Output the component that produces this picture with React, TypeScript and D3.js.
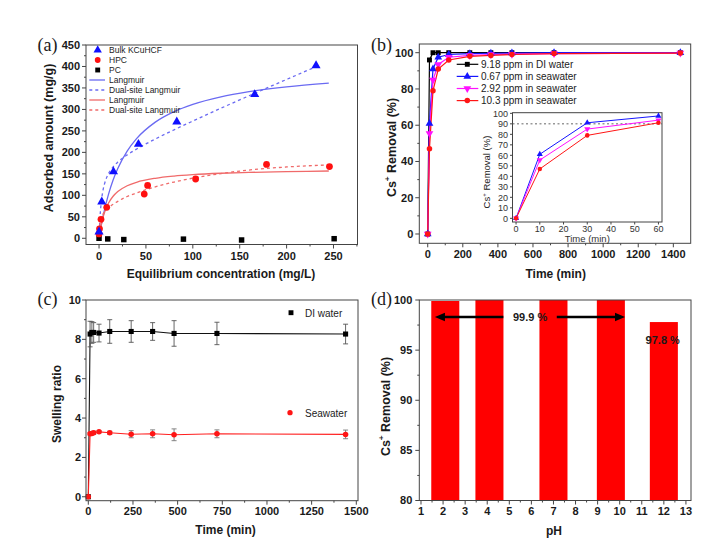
import React from 'react';
import * as d3 from 'd3';

// ---------------- Data ----------------
// (a) adsorption isotherms
const bulkC = [0, 2.9, 15.4, 42, 82.9, 166, 231.4];
const bulkQ = [15, 85, 155, 219, 271, 335, 402];
const hpcC = [0, 0.5, 2.1, 8.2, 48.2, 51.8, 103, 178.6, 245.7];
const hpcQ = [10, 22, 44, 72, 103, 123, 138, 172, 167];
const pcC = [0, 9.3, 26.4, 90, 152, 250.7];
const pcQ = [0, -1.5, -3, -2, -4, -1];
const fitC = [0, 1, 2, 4, 6, 10, 15, 20, 30, 40, 60, 80, 100, 130, 160, 200, 245];
const bulkLang = [0, 13.1, 25.4, 47.9, 67.8, 101.6, 135.5, 162.5, 203, 231.9, 270.4, 294.9, 311.9, 329.4, 341.3, 352.4, 361];
const bulkDualC = [0, 1, 2, 4, 6, 10, 15, 20, 30, 40, 60, 80, 100, 130, 160, 200, 232];
const bulkDual = [0, 47.7, 76.1, 109, 127.9, 150, 166.2, 177.4, 194.1, 207.7, 231.1, 252.5, 272.9, 302.8, 331.8, 369.8, 400.1];
const hpcLang = [0, 14.8, 27.2, 46.6, 61.1, 81.5, 97.8, 108.7, 122.3, 130.4, 139.7, 144.9, 148.2, 151.4, 153.4, 155.2, 156.6];
const hpcDualC = [0, 1, 2, 4, 6, 10, 15, 20, 30, 40, 60, 80, 100, 130, 160, 200, 247];
const hpcDual = [0, 30.3, 42.9, 55.1, 62.1, 71, 79.2, 86, 97.3, 105.4, 119.7, 131, 140, 150.7, 158.9, 166, 171];
const legendA = ['Bulk KCuHCF', 'HPC', 'PC', 'Langmuir', 'Dual-site Langmuir', 'Langmuir', 'Dual-site Langmuir'];
const aXTicks = [0, 50, 100, 150, 200, 250];
const aXMinor = [25, 75, 125, 175, 225, 275];
const aYTicks = [0, 50, 100, 150, 200, 250, 300, 350, 400, 450];
const aYMinor = [25, 75, 125, 175, 225, 275, 325, 375, 425];

// (b) removal kinetics
const kinT = [0, 10, 30, 60, 120, 240, 360, 480, 720, 1440];
const kinDI = [0, 96, 100, 100, 100, 100, 100, 100, 100, 100];
const kin067 = [0, 61, 91, 97.5, 99, 99.5, 99.7, 99.8, 100, 100];
const kin292 = [0, 55.5, 85, 93.5, 97.5, 98.5, 99, 99.2, 99.5, 99.8];
const kin103 = [0, 47, 79, 91, 96, 98, 98.5, 99, 99.5, 99.8];
const legendB = ['9.18 ppm in DI water', '0.67 ppm in seawater', '2.92 ppm in seawater', '10.3 ppm in seawater'];
const bXTicks = [0, 200, 400, 600, 800, 1000, 1200, 1400];
const bXMinor = [100, 300, 500, 700, 900, 1100, 1300];
const bYTicks = [0, 20, 40, 60, 80, 100];
const bYMinor = [10, 30, 50, 70, 90];
const insetN = 4; // first four time points (0-60 min)
const insetXTicks = [0, 10, 20, 30, 40, 50, 60];
const insetYTicks = [0, 10, 20, 30, 40, 50, 60, 70, 80, 90, 100];
const insetRef = 90;

// (c) swelling ratio
const swT = [0, 10, 20, 30, 60, 120, 240, 360, 480, 720, 1440];
const swDI = [0, 8.27, 8.35, 8.35, 8.32, 8.4, 8.4, 8.4, 8.3, 8.3, 8.27];
const swDIErr = [0, 0.65, 0.55, 0.5, 0.45, 0.6, 0.55, 0.45, 0.65, 0.57, 0.5];
const swSea = [0, 3.2, 3.22, 3.25, 3.3, 3.25, 3.18, 3.2, 3.15, 3.2, 3.17];
const swSeaErr = [0, 0.06, 0.06, 0.08, 0.05, 0.08, 0.18, 0.2, 0.3, 0.2, 0.22];
const cXTicks = [0, 250, 500, 750, 1000, 1250, 1500];
const cXMinor = [125, 375, 625, 875, 1125, 1375];
const cYTicks = [0, 2, 4, 6, 8, 10];
const cYMinor = [1, 3, 5, 7, 9];

// (d) pH effect
const pHs = [2.1, 4.1, 7.0, 9.6, 12.0];
const pHRemoval = [99.9, 100, 100, 100, 97.8];
const barWidth = 1.27;
const dXTicks = [1, 2, 3, 4, 5, 6, 7, 8, 9, 10, 11, 12, 13];
const dXMinor = [1.5, 2.5, 3.5, 4.5, 5.5, 6.5, 7.5, 8.5, 9.5, 10.5, 11.5, 12.5];
const dYTicks = [80, 85, 90, 95, 100];
const dYMinor = [82.5, 87.5, 92.5, 97.5];
const arrowY = 98.3;
const arrowLeft = [1.63, 4.73];
const arrowRight = [7.15, 10.24];
const label999 = { x: 5.94, text: '99.9 %' };
const label978 = { x: 11.95, y: 96.0, text: '97.8 %' };

// ---------------- Helpers ----------------
const SANS = 'Liberation Sans, Arial, Helvetica, sans-serif';
const SERIF = 'Liberation Serif, Times New Roman, serif';
type Lin = d3.ScaleLinear<number, number>;

const sym = (t: d3.SymbolType, size: number) => d3.symbol().type(t).size(size)() as string;

function Axes(props: {
  x: Lin; y: Lin; xt: number[]; xm: number[]; yt: number[]; ym: number[];
  xOff?: number; yOff?: number; fs?: number; weight?: string; tick?: number; minor?: number;
}) {
  const { x, y, xt, xm, yt, ym, xOff = 15.5, yOff = 6, fs = 11, weight = 'bold', tick = 4, minor = 2 } = props;
  const [x0, x1] = x.range();
  const [y0, y1] = y.range();
  const st = '#444';
  return (
    <g>
      <rect x={x0} y={y1} width={x1 - x0} height={y0 - y1} fill="none" stroke={st} strokeWidth={1} />
      {xt.map(v => <line key={'xt' + v} x1={x(v)} x2={x(v)} y1={y0} y2={y0 + tick} stroke={st} />)}
      {xm.map(v => <line key={'xm' + v} x1={x(v)} x2={x(v)} y1={y0} y2={y0 + minor} stroke={st} />)}
      {yt.map(v => <line key={'yt' + v} x1={x0} x2={x0 - tick} y1={y(v)} y2={y(v)} stroke={st} />)}
      {ym.map(v => <line key={'ym' + v} x1={x0} x2={x0 - minor} y1={y(v)} y2={y(v)} stroke={st} />)}
      {xt.map(v => (
        <text key={'xl' + v} x={x(v)} y={y0 + xOff} textAnchor="middle" fontSize={fs} fontWeight={weight} fontFamily={SANS} fill="#1a1a1a">{v}</text>
      ))}
      {yt.map(v => (
        <text key={'yl' + v} x={x0 - yOff} y={y(v) + fs * 0.36} textAnchor="end" fontSize={fs} fontWeight={weight} fontFamily={SANS} fill="#1a1a1a">{v}</text>
      ))}
    </g>
  );
}

function CsLabel({ x, y, fs = 12, weight = 'bold' }: { x: number; y: number; fs?: number; weight?: string }) {
  return (
    <text transform={`translate(${x},${y}) rotate(-90)`} textAnchor="middle" fontSize={fs} fontWeight={weight} fontFamily={SANS} fill="#1a1a1a">
      Cs<tspan dy={-fs * 0.45} fontSize={fs * 0.65}>+</tspan><tspan dy={fs * 0.45}> Removal (%)</tspan>
    </text>
  );
}

export default function App() {
  // ---------- Panel A ----------
  const ax = d3.scaleLinear().domain([-13.9, 275.6]).range([86, 357.5]);
  const ay = d3.scaleLinear().domain([-14.5, 450]).range([244.5, 45]);
  const lineA = (xs: number[], ys: number[]) =>
    d3.line<number>().x((_, i) => ax(xs[i])).y((_, i) => ay(ys[i])).curve(d3.curveMonotoneX)(ys) as string;
  const BLUE = '#1010ff';
  const BLUE_L = '#6a6af2';
  const RED = '#ff1010';
  const RED_L = '#f06a6a';

  // ---------- Panel B ----------
  const bx = d3.scaleLinear().domain([-48, 1499]).range([419.3, 690.7]);
  const by = d3.scaleLinear().domain([-5.13, 104.8]).range([243.3, 44]);
  const ix = d3.scaleLinear().domain([-1.5, 61.5]).range([512.5, 662]);
  const iy = d3.scaleLinear().domain([-3.5, 100.6]).range([222, 112.7]);
  const kinSeries = [
    { ys: kinDI, color: '#000000', sym: d3.symbolSquare, size: 24, rot: 0 },
    { ys: kin067, color: '#1515ff', sym: d3.symbolTriangle, size: 26, rot: 0 },
    { ys: kin292, color: '#ff10ff', sym: d3.symbolTriangle, size: 26, rot: 180 },
    { ys: kin103, color: '#ff1515', sym: d3.symbolCircle, size: 24, rot: 0 },
  ];
  const lineB = (ys: number[]) =>
    d3.line<number>().x((_, i) => bx(kinT[i])).y(v => by(v))(ys) as string;
  const lineI = (ys: number[]) =>
    d3.line<number>().x((_, i) => ix(kinT[i])).y(v => iy(v))(ys.slice(0, insetN)) as string;

  // ---------- Panel C ----------
  const cx = d3.scaleLinear().domain([-12.9, 1509.5]).range([86, 358]);
  const cy = d3.scaleLinear().domain([-0.2, 10]).range([500.7, 300]);
  const lineC = (ys: number[]) =>
    d3.line<number>().x((_, i) => cx(swT[i])).y(v => cy(v))(ys) as string;

  // ---------- Panel D ----------
  const dx = d3.scaleLinear().domain([0.923, 13.23]).range([419.3, 691]);
  const dy = d3.scaleLinear().domain([80, 100]).range([500.5, 300]);

  return (
    <svg width={721} height={558} style={{ position: 'absolute', left: 0, top: 0, background: '#fff' }}>
      <rect x={0} y={0} width={721} height={558} fill="#fff" />

      {/* ================= (a) ================= */}
      <g>
        <path d={lineA(fitC, bulkLang)} fill="none" stroke={BLUE_L} strokeWidth={1.3} />
        <path d={lineA(bulkDualC, bulkDual)} fill="none" stroke={BLUE_L} strokeWidth={1.3} strokeDasharray="3,3" />
        <path d={lineA(fitC, hpcLang)} fill="none" stroke={RED_L} strokeWidth={1.3} />
        <path d={lineA(hpcDualC, hpcDual)} fill="none" stroke={RED_L} strokeWidth={1.3} strokeDasharray="3,3" />
        {pcC.map((c, i) => (
          <path key={'pc' + i} d={sym(d3.symbolSquare, 30)} transform={`translate(${ax(c)},${ay(pcQ[i])})`} fill="#000" />
        ))}
        {hpcC.map((c, i) => (
          <path key={'hpc' + i} d={sym(d3.symbolCircle, 36)} transform={`translate(${ax(c)},${ay(hpcQ[i])})`} fill={RED} />
        ))}
        {bulkC.map((c, i) => (
          <path key={'bk' + i} d={sym(d3.symbolTriangle, 36)} transform={`translate(${ax(c)},${ay(bulkQ[i])})`} fill={BLUE} />
        ))}
        <Axes x={ax} y={ay} xt={aXTicks} xm={aXMinor} yt={aYTicks} ym={aYMinor} xOff={15.5} yOff={6} />
        {/* legend */}
        {legendA.map((t, i) => {
          const yy = 50 + i * 10;
          let mark: React.ReactNode = null;
          if (i === 0) mark = <path d={sym(d3.symbolTriangle, 30)} transform={`translate(97.7,${yy})`} fill={BLUE} />;
          if (i === 1) mark = <path d={sym(d3.symbolCircle, 26)} transform={`translate(97.7,${yy})`} fill={RED} />;
          if (i === 2) mark = <path d={sym(d3.symbolSquare, 24)} transform={`translate(97.7,${yy})`} fill="#000" />;
          if (i >= 3) {
            const col = i < 5 ? BLUE_L : RED_L;
            const dash = i % 2 === 0 ? '3,3' : undefined;
            mark = <line x1={89.3} x2={105} y1={yy} y2={yy} stroke={col} strokeWidth={1.3} strokeDasharray={dash} />;
          }
          return (
            <g key={'la' + i}>
              {mark}
              <text x={109} y={yy + 3} fontSize={8.5} fontFamily={SANS} fill="#222">{t}</text>
            </g>
          );
        })}
        <text transform="translate(52.5,138) rotate(-90)" textAnchor="middle" fontSize={12.5} fontWeight="bold" fontFamily={SANS} fill="#1a1a1a">Adsorbed amount (mg/g)</text>
        <text x={221} y={277.5} textAnchor="middle" fontSize={12} fontWeight="bold" fontFamily={SANS} fill="#1a1a1a">Equilibrium concentration (mg/L)</text>
        <text x={37.5} y={50.5} fontSize={18} fontFamily={SERIF} fill="#1a1a1a">(a)</text>
      </g>

      {/* ================= (b) ================= */}
      <g>
        {kinSeries.map((s, k) => (
          <path key={'bl' + k} d={lineB(s.ys)} fill="none" stroke={s.color} strokeWidth={1.2} />
        ))}
        {kinSeries.map((s, k) => s.ys.map((v, i) => (
          <path key={'bm' + k + '-' + i} d={sym(s.sym, s.size)} transform={`translate(${bx(kinT[i])},${by(v)}) rotate(${s.rot})`} fill={s.color} />
        )))}
        <Axes x={bx} y={by} xt={bXTicks} xm={bXMinor} yt={bYTicks} ym={bYMinor} xOff={15} yOff={6} />
        {/* legend */}
        {legendB.map((t, k) => {
          const s = kinSeries[k];
          const yy = 64.3 + k * 12.1;
          return (
            <g key={'lb' + k}>
              <line x1={456.7} x2={478.3} y1={yy} y2={yy} stroke={s.color} strokeWidth={1.2} />
              <path d={sym(s.sym, s.size)} transform={`translate(467.3,${yy}) rotate(${s.rot})`} fill={s.color} />
              <text x={481} y={yy + 3.6} fontSize={10} fontFamily={SANS} fill="#222">{t}</text>
            </g>
          );
        })}
        {/* inset */}
        <rect x={512.5} y={112.7} width={662 - 512.5} height={222 - 112.7} fill="#fff" stroke="#444" strokeWidth={1} />
        <line x1={512.5} x2={662} y1={iy(insetRef)} y2={iy(insetRef)} stroke="#666" strokeWidth={1} strokeDasharray="2,2.5" />
        {kinSeries.slice(1).map((s, k) => (
          <path key={'il' + k} d={lineI(s.ys)} fill="none" stroke={s.color} strokeWidth={1} />
        ))}
        {kinSeries.slice(1).map((s, k) => s.ys.slice(0, insetN).map((v, i) => (
          <path key={'im' + k + '-' + i} d={sym(s.sym, 16)} transform={`translate(${ix(kinT[i])},${iy(v)}) rotate(${s.rot})`} fill={s.color} />
        )))}
        {insetXTicks.map(v => (
          <g key={'ixt' + v}>
            <line x1={ix(v)} x2={ix(v)} y1={222} y2={224.5} stroke="#444" />
            <text x={ix(v)} y={231.5} textAnchor="middle" fontSize={9} fontFamily={SANS} fill="#333">{v}</text>
          </g>
        ))}
        {insetYTicks.map(v => (
          <g key={'iyt' + v}>
            <line x1={512.5} x2={510} y1={iy(v)} y2={iy(v)} stroke="#444" />
            <text x={508} y={iy(v) + 3.2} textAnchor="end" fontSize={9} fontFamily={SANS} fill="#333">{v}</text>
          </g>
        ))}
        <text x={587.3} y={241.5} textAnchor="middle" fontSize={9.5} fontFamily={SANS} fill="#333">Time (min)</text>
        <CsLabel x={490} y={172} fs={9.5} weight="normal" />
        <CsLabel x={396} y={147.5} fs={12.5} />
        <text x={555.7} y={277.8} textAnchor="middle" fontSize={12} fontWeight="bold" fontFamily={SANS} fill="#1a1a1a">Time (min)</text>
        <text x={371} y={50.5} fontSize={18} fontFamily={SERIF} fill="#1a1a1a">(b)</text>
      </g>

      {/* ================= (c) ================= */}
      <g>
        <path d={lineC(swDI)} fill="none" stroke="#111" strokeWidth={1.1} />
        <path d={lineC(swSea)} fill="none" stroke="#ff2020" strokeWidth={1.1} />
        {swT.map((t, i) => swDIErr[i] > 0 && (
          <g key={'de' + i} stroke="#555" strokeWidth={0.9}>
            <line x1={cx(t)} x2={cx(t)} y1={cy(swDI[i] - swDIErr[i])} y2={cy(swDI[i] + swDIErr[i])} />
            <line x1={cx(t) - 2.5} x2={cx(t) + 2.5} y1={cy(swDI[i] - swDIErr[i])} y2={cy(swDI[i] - swDIErr[i])} />
            <line x1={cx(t) - 2.5} x2={cx(t) + 2.5} y1={cy(swDI[i] + swDIErr[i])} y2={cy(swDI[i] + swDIErr[i])} />
          </g>
        ))}
        {swT.map((t, i) => swSeaErr[i] > 0 && (
          <g key={'se' + i} stroke="#777" strokeWidth={0.9}>
            <line x1={cx(t)} x2={cx(t)} y1={cy(swSea[i] - swSeaErr[i])} y2={cy(swSea[i] + swSeaErr[i])} />
            <line x1={cx(t) - 2.5} x2={cx(t) + 2.5} y1={cy(swSea[i] - swSeaErr[i])} y2={cy(swSea[i] - swSeaErr[i])} />
            <line x1={cx(t) - 2.5} x2={cx(t) + 2.5} y1={cy(swSea[i] + swSeaErr[i])} y2={cy(swSea[i] + swSeaErr[i])} />
          </g>
        ))}
        {swT.map((t, i) => (
          <path key={'dm' + i} d={sym(d3.symbolSquare, 26)} transform={`translate(${cx(t)},${cy(swDI[i])})`} fill="#000" />
        ))}
        {swT.map((t, i) => (
          <path key={'sm' + i} d={sym(d3.symbolCircle, 24)} transform={`translate(${cx(t)},${cy(swSea[i])})`} fill="#ff1515" />
        ))}
        <Axes x={cx} y={cy} xt={cXTicks} xm={cXMinor} yt={cYTicks} ym={cYMinor} xOff={14.5} yOff={5} />
        <path d={sym(d3.symbolSquare, 24)} transform="translate(291,312.7)" fill="#000" />
        <text x={305} y={316.5} fontSize={10} fontFamily={SANS} fill="#222">DI water</text>
        <path d={sym(d3.symbolCircle, 22)} transform="translate(290,412.7)" fill="#ff1515" />
        <text x={305} y={416.5} fontSize={10} fontFamily={SANS} fill="#222">Seawater</text>
        <text transform="translate(60.5,404) rotate(-90)" textAnchor="middle" fontSize={12} fontWeight="bold" fontFamily={SANS} fill="#1a1a1a">Swelling ratio</text>
        <text x={225.5} y={533.7} textAnchor="middle" fontSize={12} fontWeight="bold" fontFamily={SANS} fill="#1a1a1a">Time (min)</text>
        <text x={37.5} y={305} fontSize={18} fontFamily={SERIF} fill="#1a1a1a">(c)</text>
      </g>

      {/* ================= (d) ================= */}
      <g>
        {pHs.map((p, i) => (
          <rect key={'bar' + i} x={dx(p - barWidth / 2)} y={dy(pHRemoval[i])} width={dx(p + barWidth / 2) - dx(p - barWidth / 2)} height={dy(80) - dy(pHRemoval[i])} fill="#ff0000" />
        ))}
        <Axes x={dx} y={dy} xt={dXTicks} xm={dXMinor} yt={dYTicks} ym={dYMinor} xOff={14.5} yOff={7} />
        {/* arrows */}
        <line x1={dx(arrowLeft[0]) + 8} x2={dx(arrowLeft[1])} y1={dy(arrowY)} y2={dy(arrowY)} stroke="#000" strokeWidth={2.6} />
        <polygon points={`${dx(arrowLeft[0])},${dy(arrowY)} ${dx(arrowLeft[0]) + 10},${dy(arrowY) - 4.2} ${dx(arrowLeft[0]) + 10},${dy(arrowY) + 4.2}`} fill="#000" />
        <line x1={dx(arrowRight[0])} x2={dx(arrowRight[1]) - 8} y1={dy(arrowY)} y2={dy(arrowY)} stroke="#000" strokeWidth={2.6} />
        <polygon points={`${dx(arrowRight[1])},${dy(arrowY)} ${dx(arrowRight[1]) - 10},${dy(arrowY) - 4.2} ${dx(arrowRight[1]) - 10},${dy(arrowY) + 4.2}`} fill="#000" />
        <text x={dx(label999.x)} y={dy(arrowY) + 4} textAnchor="middle" fontSize={11} fontWeight="bold" fontFamily={SANS} fill="#1a1a1a">{label999.text}</text>
        <text x={dx(label978.x)} y={dy(label978.y) + 4} textAnchor="middle" fontSize={11} fontWeight="bold" fontFamily={SANS} fill="#1a1a1a">{label978.text}</text>
        <CsLabel x={389.5} y={406.5} fs={12.5} />
        <text x={554} y={535} textAnchor="middle" fontSize={12} fontWeight="bold" fontFamily={SANS} fill="#1a1a1a">pH</text>
        <text x={371} y={305} fontSize={18} fontFamily={SERIF} fill="#1a1a1a">(d)</text>
      </g>
    </svg>
  );
}
